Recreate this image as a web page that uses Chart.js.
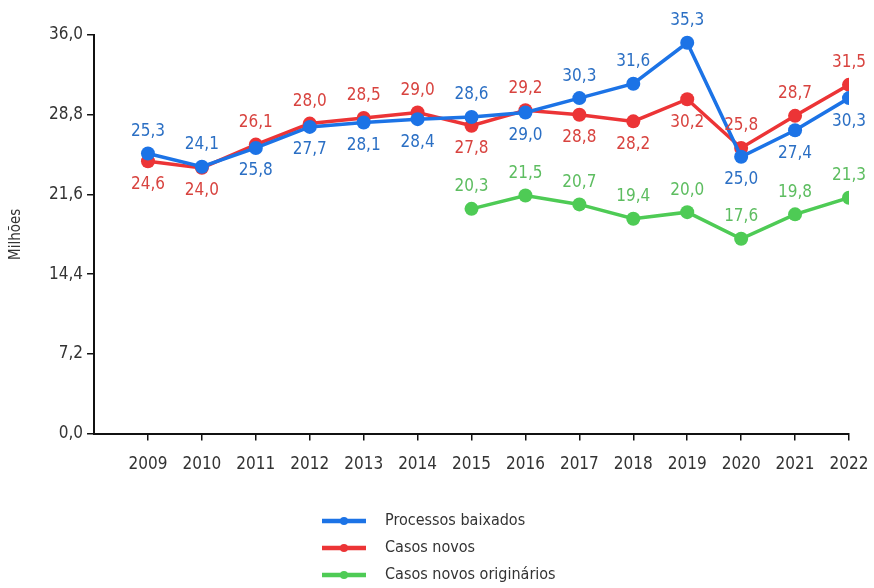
<!DOCTYPE html>
<html>
<head>
<meta charset="utf-8">
<script src="https://cdn.jsdelivr.net/npm/chart.js@4/dist/chart.umd.min.js"></script>
<style>
  html, body { margin: 0; padding: 0; background: #fff; }
  #wrap { width: 874px; height: 588px; }
</style>
</head>
<body>
<div id="wrap"><canvas id="casosChart"></canvas></div>
<script>
// years on the x axis
const years = [2009, 2010, 2011, 2012, 2013, 2014, 2015, 2016, 2017, 2018, 2019, 2020, 2021, 2022];

// values in millions
const baixados = [25.3, 24.1, 25.8, 27.7, 28.1, 28.4, 28.6, 29.0, 30.3, 31.6, 35.3, 25.0, 27.4, 30.3];
const casosNovos = [24.6, 24.0, 26.1, 28.0, 28.5, 29.0, 27.8, 29.2, 28.8, 28.2, 30.2, 25.8, 28.7, 31.5];
const originarios = [null, null, null, null, null, null, 20.3, 21.5, 20.7, 19.4, 20.0, 17.6, 19.8, 21.3];

const yTicks = [0, 7.2, 14.4, 21.6, 28.8, 36.0];

const FONT = "'Liberation Sans Narrow', 'DejaVu Sans Condensed', 'Roboto Condensed', sans-serif";

function fmt(v) {
    return v.toFixed(1).replace(".", ",");
}

function toPoints(values) {
    return years.map((yr, i) => ({ x: yr, y: values[i] }));
}

// the higher of blue/red gets its label above, the lower one below
function labelAbove(dsIndex, i) {
    if (dsIndex === 2) return true;
    const mine = dsIndex === 0 ? baixados[i] : casosNovos[i];
    const other = dsIndex === 0 ? casosNovos[i] : baixados[i];
    return mine >= other;
}

const pointLabels = {
    id: "pointLabels",
    afterDatasetsDraw(chart) {
        const ctx = chart.ctx;
        ctx.save();
        ctx.font = "17px " + FONT;
        ctx.textAlign = "center";
        ctx.textBaseline = "middle";
        chart.data.datasets.forEach((ds, d) => {
            const meta = chart.getDatasetMeta(d);
            meta.data.forEach((pt, i) => {
                const v = ds.data[i].y;
                if (v == null) return;
                const up = labelAbove(d, i);
                ctx.fillStyle = ds.labelColor;
                ctx.fillText(fmt(v), pt.x, pt.y + (up ? -22 : 23));
            });
        });
        ctx.restore();
    }
};

const listLegend = {
    id: "listLegend",
    afterDraw(chart, args, opts) {
        const ctx = chart.ctx;
        ctx.save();
        ctx.font = "16px " + FONT;
        ctx.textBaseline = "middle";
        ctx.textAlign = "left";
        chart.data.datasets.forEach((ds, d) => {
            const y = opts.top + d * opts.rowHeight;
            ctx.strokeStyle = ds.borderColor;
            ctx.lineWidth = 4.5;
            ctx.beginPath();
            ctx.moveTo(opts.left, y);
            ctx.lineTo(opts.left + 44, y);
            ctx.stroke();
            ctx.fillStyle = ds.borderColor;
            ctx.beginPath();
            ctx.arc(opts.left + 22, y, 4, 0, Math.PI * 2);
            ctx.fill();
            ctx.fillStyle = "#333";
            ctx.fillText(ds.label, opts.left + 63, y);
        });
        ctx.restore();
    }
};

function series(label, values, color, textColor) {
    return {
        label: label,
        data: toPoints(values),
        borderColor: color,
        backgroundColor: color,
        labelColor: textColor,
        borderWidth: 3.5,
        pointRadius: 7,
        pointHoverRadius: 7,
        pointBorderWidth: 0,
        spanGaps: false
    };
}

const chart = new Chart(document.getElementById("casosChart"), {
    type: "line",
    data: {
        datasets: [
            series("Processos baixados", baixados, "#1c73e6", "#2b6fc4"),
            series("Casos novos", casosNovos, "#ec3436", "#d8433f"),
            series("Casos novos originários", originarios, "#4ecb55", "#5dbd60")
        ]
    },
    options: {
        responsive: true,
        maintainAspectRatio: false,
        animation: false,
        layout: { padding: { left: 7, right: 25, top: 35, bottom: 99 } },
        plugins: {
            legend: { display: false },
            tooltip: { enabled: false },
            listLegend: { left: 322, top: 521, rowHeight: 27 }
        },
        scales: {
            x: {
                type: "linear",
                min: 2008,
                max: 2022,
                afterBuildTicks(scale) {
                    scale.ticks = [2008].concat(years).map(v => ({ value: v }));
                },
                // the last label may hang past the axis end, like in the original
                afterFit(scale) {
                    scale.paddingRight = 0;
                },
                ticks: {
                    autoSkip: false,
                    maxRotation: 0,
                    color: "#333",
                    font: { family: FONT, size: 17 },
                    padding: 14,
                    callback: v => (v === 2008 ? "" : String(v))
                },
                grid: {
                    drawOnChartArea: false,
                    drawTicks: true,
                    tickLength: 7,
                    lineWidth: 1.5,
                    color: ctx => (ctx.tick && ctx.tick.value === 2008 ? "rgba(0,0,0,0)" : "#111")
                },
                border: { display: true, color: "#111", width: 2 }
            },
            y: {
                min: 0,
                max: 36,
                afterBuildTicks(scale) {
                    scale.ticks = yTicks.map(v => ({ value: v }));
                },
                ticks: {
                    color: "#333",
                    font: { family: FONT, size: 17 },
                    padding: 4,
                    callback: v => fmt(v)
                },
                grid: {
                    drawOnChartArea: false,
                    drawTicks: true,
                    tickLength: 7,
                    lineWidth: 1.5,
                    color: "#111"
                },
                border: { display: true, color: "#111", width: 2 },
                title: {
                    display: true,
                    text: "Milhões",
                    color: "#333",
                    font: { family: FONT, size: 15 },
                    padding: { top: 0, bottom: 20 }
                }
            }
        }
    },
    plugins: [pointLabels, listLegend]
});
</script>
</body>
</html>
